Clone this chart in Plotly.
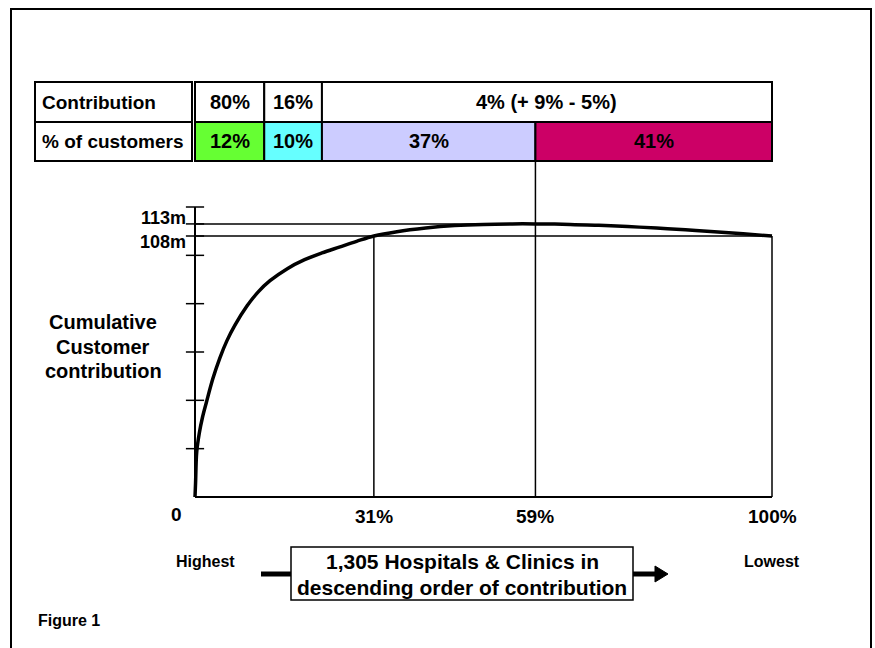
import plotly.graph_objects as go

W, H = 875, 648
FONT = "Liberation Sans, Arial, Helvetica, sans-serif"

# ---------------- data ----------------
segment_labels = ["12%", "10%", "37%", "41%"]
customer_share = [12, 10, 37, 41]                     # % of customers per segment
segment_colors = ["#66FF33", "#66FFFF", "#CCCCFF", "#CC0066"]
contribution_text = ["80%", "16%", "4% (+ 9% - 5%)"]
contribution_groups = [[0], [1], [2, 3]]              # segments spanned by each contribution cell

curve_x = [0, 0.1, 0.3, 0.75, 1.3, 2.0, 3.1, 4.3, 5.5, 6.9, 9, 11, 13, 16, 19, 22, 25, 28, 31,
           35, 40, 45, 50, 55, 59, 65, 70, 75, 80, 85, 90, 95, 100]
curve_y = [0, 6, 18.7, 26.5, 33, 39.4, 49, 57.5, 64.5, 71, 79, 85, 89.5, 94.5, 98.2, 101,
           103.4, 105.8, 108, 109.8, 111.3, 112.3, 112.8, 113, 113, 112.8, 112.4, 111.9,
           111.3, 110.6, 109.8, 108.9, 108]

y_ticks = [20, 40, 60, 80, 100, 120]
ref_levels = [113, 108]
ref_labels = ["113m", "108m"]
ref_extent = [59, 100]          # how far (in % of customers) each level line runs
x_marks = [31, 59, 100]
x_mark_labels = ["31%", "59%", "100%"]
x_mark_top = [108, None, 108]   # None -> runs up to the table
ylabel_lines = ["Cumulative", "Customer", "contribution"]
box_lines = ["1,305 Hospitals &amp; Clinics in", "descending order of contribution"]

# ---------------- scales ----------------
X_RANGE = [-3, 103]
Y_RANGE = [-5, 125]
XD = [177.69 / W, 789.31 / W]
YD = [1 - 509.08 / H, 1 - 194.92 / H]


def px(x):
    return x / W


def py(y):
    return 1 - y / H


def yp(v):  # y data value -> paper (same linear map as the axis)
    return YD[0] + (v - Y_RANGE[0]) / (Y_RANGE[1] - Y_RANGE[0]) * (YD[1] - YD[0])


def txt(x, y, s, size, xanchor="center", xref="paper", yref="paper", yshift=0):
    return dict(xref=xref, yref=yref, x=x, y=y, text="<b>%s</b>" % s, showarrow=False,
                xanchor=xanchor, yanchor="middle", yshift=yshift, borderpad=0,
                font=dict(family=FONT, size=size, color="black"))


fig = go.Figure()
shapes = []
ann = []

# cumulative boundaries of segments
cum = [0]
for s in customer_share:
    cum.append(cum[-1] + s)

# ---------------- table ----------------
ROW1 = (py(82), py(122))
ROW2 = (py(122), py(161))
LINE = dict(color="black", width=2)
for (ytop, ybot), lab in zip([ROW1, ROW2], ["Contribution", "% of customers"]):
    shapes.append(dict(type="rect", xref="paper", yref="paper", x0=px(35), x1=px(192),
                       y0=ybot, y1=ytop, line=LINE, fillcolor="white"))
    ann.append(txt(px(41), (ytop + ybot) / 2, lab, 19, xanchor="left"))
for t, grp in zip(contribution_text, contribution_groups):
    x0, x1 = cum[grp[0]], cum[grp[-1] + 1]
    shapes.append(dict(type="rect", xref="x", yref="paper", x0=x0, x1=x1,
                       y0=ROW1[1], y1=ROW1[0], line=LINE, fillcolor="white"))
    ann.append(txt((x0 + x1) / 2, (ROW1[0] + ROW1[1]) / 2, t, 20, xref="x"))
for i, (lab, col) in enumerate(zip(segment_labels, segment_colors)):
    x0, x1 = cum[i], cum[i + 1]
    shapes.append(dict(type="rect", xref="x", yref="paper", x0=x0, x1=x1,
                       y0=ROW2[1], y1=ROW2[0], line=LINE, fillcolor=col))
    ann.append(txt((x0 + x1) / 2, (ROW2[0] + ROW2[1]) / 2, lab, 20, xref="x"))

# ---------------- reference lines ----------------
for lvl, ext in zip(ref_levels, ref_extent):
    fig.add_trace(go.Scatter(x=[0, ext], y=[lvl, lvl], mode="lines",
                             line=dict(color="black", width=1.5), hoverinfo="skip"))
for xm, top in zip(x_marks, x_mark_top):
    if top is None:
        shapes.append(dict(type="line", xref="x", yref="paper", x0=xm, x1=xm,
                           y0=yp(0), y1=ROW2[1], line=dict(color="black", width=1.5)))
    else:
        fig.add_trace(go.Scatter(x=[xm, xm], y=[0, top], mode="lines",
                                 line=dict(color="black", width=1.5), hoverinfo="skip"))

# axes lines
fig.add_trace(go.Scatter(x=[0, 100], y=[0, 0], mode="lines",
                         line=dict(color="black", width=2), hoverinfo="skip"))
fig.add_trace(go.Scatter(x=[0, 0], y=[0, max(y_ticks)], mode="lines",
                         line=dict(color="black", width=2), hoverinfo="skip"))
fig.add_trace(go.Scatter(x=[0] * (len(y_ticks) + len(ref_levels)), y=y_ticks + ref_levels,
                         mode="markers", cliponaxis=False, hoverinfo="skip",
                         marker=dict(symbol="line-ew", size=13,
                                     line=dict(color="black", width=1.5))))

# curve
fig.add_trace(go.Scatter(x=curve_x, y=curve_y, mode="lines", line_shape="spline",
                         line=dict(color="black", width=3.5), hoverinfo="skip"))

# ---------------- axis labels ----------------
for lvl, lab, sh in zip(ref_levels, ref_labels, [6, -6]):
    ann.append(txt(px(187), lvl, lab, 18, xanchor="right", yref="y", yshift=sh))
ann.append(txt(px(176), py(514), "0", 19))
for xm, lab in zip(x_marks, x_mark_labels):
    ann.append(txt(xm, py(516), lab, 19, xref="x"))
for k, line in enumerate(ylabel_lines):
    ann.append(txt(px(103), py(322 + 24.5 * k), line, 20))

# ---------------- bottom explanation ----------------
ann.append(txt(px(205), py(561), "Highest", 16))
ann.append(txt(px(772), py(561), "Lowest", 16))
shapes.append(dict(type="line", xref="paper", yref="paper", x0=px(261), x1=px(292),
                   y0=py(574), y1=py(574), line=dict(color="black", width=5)))
shapes.append(dict(type="line", xref="paper", yref="paper", x0=px(632), x1=px(656),
                   y0=py(574), y1=py(574), line=dict(color="black", width=5)))
shapes.append(dict(type="path", xref="paper", yref="paper",
                   path="M %f %f L %f %f L %f %f Z" % (px(655), py(566), px(668), py(574),
                                                      px(655), py(582)),
                   fillcolor="black", line=dict(color="black", width=1)))
shapes.append(dict(type="rect", xref="paper", yref="paper", x0=px(291), x1=px(633),
                   y0=py(600), y1=py(547), line=dict(color="black", width=1.5),
                   fillcolor="white"))
for k, line in enumerate(box_lines):
    ann.append(txt(px(462), py(561 + 26 * k), line, 21))
ann.append(txt(px(37), py(620), "Figure 1", 16, xanchor="left"))

# outer frame
shapes.append(dict(type="rect", xref="paper", yref="paper", x0=px(11), x1=px(871),
                   y0=py(662), y1=py(9), line=dict(color="black", width=2),
                   fillcolor="rgba(0,0,0,0)", layer="below"))

fig.update_layout(
    width=W, height=H, margin=dict(l=0, r=0, t=0, b=0),
    paper_bgcolor="white", plot_bgcolor="white", showlegend=False,
    xaxis=dict(range=X_RANGE, domain=XD, visible=False, fixedrange=True),
    yaxis=dict(range=Y_RANGE, domain=YD, visible=False, fixedrange=True),
    shapes=shapes, annotations=ann,
)

fig.write_html("out.html", post_script="document.body.style.margin='0';",
               config={"displayModeBar": False})
